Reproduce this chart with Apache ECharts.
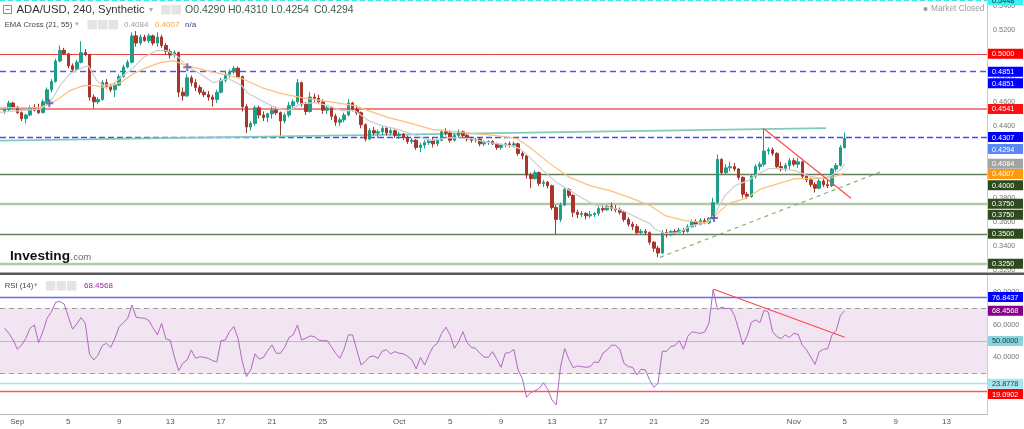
<!DOCTYPE html>
<html><head><meta charset="utf-8">
<script src="https://cdn.jsdelivr.net/npm/echarts@6.0.0/dist/echarts.min.js"></script>
<style>html,body{margin:0;padding:0;background:#fff;overflow:hidden}#c{width:1024px;height:429px}</style>
</head><body><div id="c"></div><script>
// ================= DATA =================
const startDay = -1;          // first candle: Aug 31 00:00 (days since Sep 1)
const candleStepDays = 1 / 3; // 8-hour candles
// [open, high, low, close]
const candles = [
[.4520,.4545,.4500,.4535],[.4535,.4610,.4525,.4590],[.4590,.4600,.4540,.4555],[.4555,.4565,.4500,.4510],[.4510,.4520,.4440,.4460],
[.4460,.4500,.4420,.4490],[.4490,.4570,.4480,.4545],[.4545,.4580,.4520,.4530],[.4530,.4585,.4500,.4510],[.4510,.4620,.4505,.4600],
[.4600,.4720,.4590,.4700],[.4700,.4790,.4680,.4770],[.4770,.4960,.4760,.4940],[.4940,.5070,.4930,.5030],[.5030,.5050,.4990,.5000],
[.5000,.5010,.4880,.4900],[.4900,.4920,.4850,.4870],[.4870,.4950,.4860,.4930],[.4930,.5105,.4920,.5010],[.5010,.5040,.4980,.4995],
[.4995,.5000,.4610,.4640],[.4640,.4660,.4545,.4600],[.4600,.4640,.4580,.4620],[.4620,.4780,.4610,.4760],[.4760,.4790,.4710,.4730],
[.4730,.4750,.4680,.4700],[.4700,.4760,.4640,.4740],[.4740,.4830,.4730,.4810],[.4810,.4910,.4800,.4890],[.4890,.4950,.4880,.4930],
[.4930,.5180,.4920,.5150],[.5150,.5190,.5060,.5090],[.5090,.5160,.5070,.5140],[.5140,.5160,.5100,.5110],[.5110,.5170,.5090,.5150],
[.5150,.5160,.5070,.5090],[.5090,.5180,.5060,.5140],[.5140,.5160,.5050,.5070],[.5070,.5090,.4990,.5020],[.5020,.5040,.4960,.4990],
[.4990,.5030,.4970,.5010],[.5010,.5020,.4640,.4680],[.4680,.4720,.4610,.4650],[.4650,.4830,.4640,.4800],[.4800,.4820,.4730,.4760],
[.4760,.4790,.4690,.4720],[.4720,.4740,.4660,.4680],[.4680,.4700,.4640,.4660],[.4660,.4690,.4610,.4640],[.4640,.4660,.4560,.4620],
[.4620,.4700,.4590,.4680],[.4680,.4800,.4670,.4780],[.4780,.4850,.4760,.4830],[.4830,.4870,.4800,.4850],[.4850,.4900,.4830,.4880],
[.4880,.4895,.4800,.4810],[.4810,.4820,.4520,.4560],[.4560,.4580,.4340,.4390],[.4390,.4440,.4360,.4420],[.4420,.4570,.4400,.4550],
[.4550,.4570,.4460,.4490],[.4490,.4520,.4440,.4470],[.4470,.4510,.4430,.4500],[.4500,.4560,.4460,.4530],[.4530,.4560,.4490,.4510],
[.4510,.4520,.4320,.4440],[.4440,.4510,.4420,.4490],[.4490,.4600,.4470,.4570],[.4570,.4620,.4540,.4600],[.4600,.4790,.4580,.4760],
[.4760,.4770,.4560,.4580],[.4580,.4600,.4490,.4520],[.4520,.4680,.4510,.4640],[.4640,.4670,.4600,.4630],[.4630,.4660,.4580,.4600],
[.4600,.4620,.4500,.4530],[.4530,.4570,.4500,.4550],[.4550,.4560,.4450,.4480],[.4480,.4500,.4400,.4430],[.4430,.4470,.4400,.4450],
[.4450,.4510,.4430,.4490],[.4490,.4625,.4480,.4590],[.4590,.4600,.4520,.4540],[.4540,.4570,.4490,.4510],[.4510,.4520,.4380,.4410],
[.4410,.4420,.4270,.4290],[.4290,.4380,.4280,.4360],[.4360,.4390,.4320,.4340],[.4340,.4370,.4300,.4350],[.4350,.4400,.4320,.4380],
[.4380,.4390,.4320,.4340],[.4340,.4380,.4320,.4360],[.4360,.4370,.4300,.4320],[.4320,.4350,.4290,.4330],[.4330,.4340,.4280,.4300],
[.4300,.4320,.4250,.4270],[.4270,.4300,.4250,.4280],[.4280,.4290,.4200,.4220],[.4220,.4260,.4180,.4240],[.4240,.4280,.4210,.4260],
[.4260,.4290,.4240,.4280],[.4280,.4300,.4220,.4250],[.4250,.4290,.4230,.4280],[.4280,.4370,.4270,.4350],[.4350,.4380,.4320,.4340],
[.4340,.4360,.4260,.4280],[.4280,.4340,.4270,.4320],[.4320,.4370,.4300,.4350],[.4350,.4360,.4300,.4320],[.4320,.4330,.4270,.4290],
[.4290,.4310,.4260,.4280],[.4280,.4300,.4260,.4290],[.4290,.4300,.4230,.4250],[.4250,.4280,.4230,.4260],[.4260,.4280,.4240,.4270],
[.4270,.4280,.4240,.4250],[.4250,.4260,.4200,.4220],[.4220,.4250,.4200,.4240],[.4240,.4260,.4220,.4250],[.4250,.4270,.4220,.4240],
[.4240,.4270,.4220,.4250],[.4250,.4260,.4150,.4170],[.4170,.4190,.4120,.4150],[.4150,.4160,.3960,.3990],[.3990,.4010,.3880,.3960],
[.3960,.4030,.3950,.4010],[.4010,.4020,.3900,.3920],[.3920,.3950,.3890,.3930],[.3930,.3940,.3880,.3900],[.3900,.3910,.3700,.3720],
[.3720,.3740,.3500,.3620],[.3620,.3760,.3600,.3740],[.3740,.3890,.3730,.3870],[.3870,.3880,.3800,.3820],[.3820,.3830,.3640,.3680],
[.3680,.3700,.3630,.3660],[.3660,.3690,.3640,.3670],[.3670,.3680,.3620,.3650],[.3650,.3690,.3630,.3660],[.3660,.3680,.3640,.3670],
[.3670,.3730,.3650,.3710],[.3710,.3740,.3680,.3700],[.3700,.3740,.3690,.3730],[.3730,.3760,.3690,.3710],[.3710,.3740,.3680,.3700],
[.3700,.3720,.3660,.3680],[.3680,.3690,.3600,.3620],[.3620,.3640,.3560,.3580],[.3580,.3600,.3530,.3560],[.3560,.3580,.3490,.3510],
[.3510,.3540,.3490,.3520],[.3520,.3540,.3490,.3510],[.3510,.3520,.3410,.3430],[.3430,.3440,.3350,.3380],[.3380,.3400,.3305,.3340],
[.3340,.3530,.3330,.3510],[.3510,.3540,.3470,.3490],[.3490,.3530,.3480,.3520],[.3520,.3540,.3490,.3510],[.3510,.3550,.3500,.3530],
[.3530,.3550,.3500,.3520],[.3520,.3580,.3510,.3560],[.3560,.3620,.3550,.3600],[.3600,.3620,.3560,.3580],[.3580,.3630,.3570,.3610],
[.3610,.3630,.3580,.3590],[.3590,.3640,.3580,.3630],[.3630,.3800,.3620,.3760],[.3760,.4160,.3750,.4120],[.4120,.4130,.3990,.4010],
[.4010,.4080,.3990,.4050],[.4050,.4100,.4020,.4060],[.4060,.4090,.4020,.4040],[.4040,.4050,.3950,.3970],[.3970,.3980,.3800,.3830],
[.3830,.3850,.3790,.3810],[.3810,.4000,.3800,.3980],[.3980,.4080,.3960,.4060],[.4060,.4100,.4030,.4080],[.4080,.4380,.4060,.4190],
[.4190,.4220,.4160,.4200],[.4200,.4220,.4150,.4170],[.4170,.4180,.4040,.4060],[.4060,.4100,.4020,.4040],[.4040,.4090,.4020,.4070],
[.4070,.4130,.4040,.4110],[.4110,.4130,.4060,.4080],[.4080,.4135,.4050,.4100],[.4100,.4110,.3960,.3980],[.3980,.4000,.3930,.3950],
[.3950,.3970,.3890,.3910],[.3910,.3930,.3845,.3880],[.3880,.3960,.3870,.3940],[.3940,.3960,.3890,.3910],[.3910,.3950,.3880,.3900],
[.3900,.4050,.3890,.4040],[.4040,.4090,.4020,.4070],[.4070,.4240,.4060,.4220],[.4220,.4344,.4210,.4294]
];
// RSI(14), one value per candle
const rsi = [
57.8,54.7,50.6,44.9,47.6,51.7,57.8,59.8,49.0,55.7,
63.9,67.8,73.7,74.1,72.7,64.9,57.2,60.4,64.3,60.8,
41.9,38.4,41.3,47.2,48.6,46.1,51.7,58.8,61.2,63.9,
72.0,64.5,64.1,63.9,62.5,57.8,53.7,60.8,51.2,50.6,
40.4,31.9,36.4,38.4,44.5,39.4,40.4,40.0,39.4,38.0,
37.2,50.2,50.6,55.7,58.8,51.7,37.4,28.2,32.3,42.1,
39.0,40.0,44.1,47.6,42.5,42.5,46.1,52.1,53.7,59.8,
50.6,51.7,53.1,52.7,50.6,50.2,50.2,46.6,42.5,39.4,
45.1,53.7,53.7,44.5,35.3,37.4,40.4,40.8,39.4,43.9,
44.5,42.1,43.5,42.5,42.1,40.6,38.4,32.9,40.0,35.3,
41.5,46.6,48.6,54.7,58.4,53.7,45.5,49.6,55.7,49.0,
46.1,45.5,42.5,40.2,40.0,43.5,38.8,33.9,42.5,42.9,
44.9,32.3,27.2,15.6,18.4,19.6,21.1,24.5,20.5,13.9,
10.9,33.9,45.3,38.8,33.7,34.7,34.3,33.9,34.3,37.2,
36.8,42.5,44.5,47.4,47.4,44.9,36.2,34.3,33.9,29.2,
32.7,32.3,26.2,21.7,24.1,43.7,43.7,46.6,47.2,50.2,
44.9,52.7,55.7,55.1,54.7,55.5,60.8,81.6,69.2,70.8,
69.8,70.0,65.7,57.2,47.8,53.1,61.4,62.9,61.2,68.8,
67.6,55.7,52.7,51.4,53.7,52.1,54.7,54.1,47.4,44.5,
40.2,35.7,43.5,44.9,45.3,53.7,56.5,65.7,68.4568
];
// EMA lines: [day, price]
const ema21 = [[-1.37,.4513],[0.20,.4527],[1.78,.4540],[2.56,.4595],[3.35,.4735],[4.13,.4835],[4.92,.4877],[5.57,.4902],[6.23,.4777],[6.75,.4735],[7.53,.4752],[8.32,.4819],[9.11,.4885],[9.89,.4969],[10.94,.5027],[11.73,.5027],[12.51,.4985],[13.30,.4902],[14.35,.4835],[15.39,.4760],[16.57,.4794],[17.62,.4735],[18.14,.4669],[19.19,.4610],[20.24,.4552],[21.28,.4527],[22.34,.4585],[23.38,.4594],[24.43,.4569],[25.48,.4527],[26.52,.4527],[27.57,.4444],[28.62,.4402],[29.67,.4377],[30.71,.4344],[31.76,.4302],[32.42,.4277],[33.99,.4302],[35.56,.4294],[37.13,.4260],[38.70,.4235],[39.49,.4210],[40.27,.4135],[41.32,.4027],[42.37,.3927],[43.42,.3860],[44.46,.3793],[45.51,.3735],[46.56,.3718],[47.60,.3693],[48.66,.3635],[49.70,.3585],[50.09,.3540],[50.88,.3502],[51.92,.3510],[52.98,.3568],[54.28,.3595],[54.81,.3668],[55.59,.3818],[56.38,.3902],[57.42,.3943],[58.21,.4002],[58.99,.4043],[60.04,.4043],[61.09,.4027],[62.13,.3985],[63.18,.3960],[63.97,.3985],[64.76,.4043],[65.0,.4084]];
const ema55 = [[-1.37,.4552],[0.20,.4552],[1.78,.4552],[2.56,.4585],[3.35,.4635],[4.13,.4694],[5.18,.4735],[5.96,.4735],[7.01,.4719],[8.06,.4760],[9.11,.4835],[10.16,.4885],[11.20,.4927],[12.25,.4944],[13.30,.4902],[14.87,.4860],[15.92,.4835],[17.62,.4794],[19.19,.4719],[20.76,.4669],[22.34,.4635],[23.91,.4610],[25.48,.4585],[26.52,.4569],[27.57,.4527],[29.14,.4469],[30.71,.4427],[32.60,.4370],[35.03,.4344],[37.65,.4319],[39.23,.4294],[40.27,.4219],[41.84,.4085],[43.42,.3968],[44.99,.3902],[46.56,.3860],[48.13,.3802],[49.70,.3735],[50.88,.3652],[52.45,.3610],[54.02,.3593],[54.81,.3652],[55.85,.3752],[57.16,.3793],[58.48,.3877],[59.78,.3918],[61.09,.3960],[62.40,.3960],[63.97,.3968],[65.0,.4007]];
const emaCrosses = [[2.51,.4588],[13.35,.4888],[54.73,.3632]];
// drawn trend lines: [day, value]
const trendTeal = [[-1.37,.4277],[63.53,.4381]];
const trendRed = [[58.68,.4374],[65.49,.3796]];
const trendGreen = [[50.49,.3304],[68.08,.4027]];
const rsiTrend = [[54.71,81.6],[65.0,52.3]];
// horizontal levels
const priceLevels = [0.5448, 0.5000, 0.4851, 0.4541, 0.4307, 0.4000, 0.3750, 0.3500, 0.3250];
const rsiLevels = [76.8437, 70, 50, 30, 23.8778, 19.0902];
// header values
const symbolName = 'ADA/USD, 240, Synthetic';
const lastOHLC = [0.4290, 0.4310, 0.4254, 0.4294];
const emaLast = [0.4084, 0.4007];
const rsiLast = 68.4568;
// axis ticks
const priceTicks = [0.32,0.34,0.36,0.38,0.40,0.42,0.44,0.46,0.48,0.50,0.52,0.54];
const rsiTicks = [40, 60, 80];
const dateTicks = [0,4,8,12,16,20,24,30,34,38,42,46,50,54,61,65,69,73];
const dateTickLabels = ['Sep','5','9','13','17','21','25','Oct','5','9','13','17','21','25','Nov','5','9','13'];

// ================= VIEW =================
const X_MIN = -1.367, X_MAX = 76.18;
const P_MIN = 0.3190, P_MAX = 0.5449;
const R_MIN = 5.35, R_MAX = 90.35;
const SANS = '"Liberation Sans", Arial, sans-serif';

const levelStyles = [
  {color:'#3fe6e6', type:[5,3], width:1.3},
  {color:'#e94040', type:'solid', width:1},
  {color:'#5555f5', type:[6,4], width:1.4},
  {color:'#f38585', type:'solid', width:2},
  {color:'#4a4af2', type:[6,3], width:1.4},
  {color:'#667f5a', type:'solid', width:1.4},
  {color:'#b2c6a8', type:'solid', width:2.4},
  {color:'#667f5a', type:'solid', width:1.4},
  {color:'#b2c6a8', type:'solid', width:2.4}
];
const rsiLevelStyles = [
  {color:'#6a6af5', type:'solid', width:1.4},
  {color:'#a49ca4', type:[5,4], width:1},
  {color:'#a3c4c8', type:'solid', width:1.2},
  {color:'#a49ca4', type:[5,4], width:1},
  {color:'#a6e6ee', type:'solid', width:1.4},
  {color:'#ff5555', type:'solid', width:1.4}
];

const candleData = candles.map((c, i) => [startDay + i * candleStepDays, c[0], c[3], c[2], c[1]]);
const rsiData = rsi.map((v, i) => [startDay + i * candleStepDays, v]);

const chart = echarts.init(document.getElementById('c'), null, {renderer: 'canvas'});

const option = {
  animation: false,
  backgroundColor: '#ffffff',
  grid: [
    {left: 0, right: 37, top: 0, height: 271},
    {left: 0, right: 37, top: 275, height: 139}
  ],
  xAxis: [
    {type:'value', gridIndex:0, min:X_MIN, max:X_MAX, show:false},
    {type:'value', gridIndex:1, min:X_MIN, max:X_MAX,
     axisLine:{show:true, onZero:false, lineStyle:{color:'#bbbbbb'}}, axisTick:{show:false}, splitLine:{show:false},
     axisLabel:{customValues: dateTicks, margin: 4, color:'#555', fontSize: 8, fontFamily: SANS,
       formatter: v => { const k = dateTicks.indexOf(Math.round(v)); return k >= 0 ? dateTickLabels[k] : ''; }}}
  ],
  yAxis: [
    {type:'value', gridIndex:0, position:'right', min:P_MIN, max:P_MAX,
     axisLine:{show:true, onZero:false, lineStyle:{color:'#cccccc'}}, axisTick:{show:false}, splitLine:{show:false},
     axisLabel:{customValues: priceTicks, margin: 6, color:'#777', fontSize: 7.3, fontFamily: SANS,
       formatter: v => v.toFixed(4)}},
    {type:'value', gridIndex:1, position:'right', min:R_MIN, max:R_MAX,
     axisLine:{show:true, onZero:false, lineStyle:{color:'#cccccc'}}, axisTick:{show:false}, splitLine:{show:false},
     axisLabel:{customValues: rsiTicks, margin: 6, color:'#777', fontSize: 7.3, fontFamily: SANS,
       formatter: v => v.toFixed(4)}}
  ],
  series: [
    {type:'candlestick', name:'ADA', xAxisIndex:0, yAxisIndex:0, z:3, barWidth: 3,
     encode:{x:0, y:[1,2,3,4]},
     data: candleData,
     itemStyle:{color:'#1e9e88', color0:'#a8342b', borderColor:'#1e9e88', borderColor0:'#a8342b', borderWidth:1},
     markLine:{silent:true, symbol:'none', z:1, precision:6, label:{show:false},
       data: priceLevels.map((v, i) => ({yAxis: v, lineStyle: levelStyles[i]}))}
    },
    {type:'line', name:'EMA21', xAxisIndex:0, yAxisIndex:0, z:4, data: ema21, showSymbol:false, symbol:'none',
     lineStyle:{color:'#cfcfcf', width:1.2}},
    {type:'line', name:'EMA55', xAxisIndex:0, yAxisIndex:0, z:4, data: ema55, showSymbol:false, symbol:'none',
     lineStyle:{color:'#fbc07a', width:1.2}},
    {type:'line', name:'teal', xAxisIndex:0, yAxisIndex:0, z:2, data: trendTeal, symbol:'none',
     lineStyle:{color:'#80cbb7', width:1.6}},
    {type:'line', name:'redTrend', xAxisIndex:0, yAxisIndex:0, z:5, data: trendRed, symbol:'none',
     lineStyle:{color:'#ff4a4a', width:1.2}},
    {type:'line', name:'greenTrend', xAxisIndex:0, yAxisIndex:0, z:5, data: trendGreen, symbol:'none',
     lineStyle:{color:'#86b36e', width:1.2, type:[4,4]}},
    {type:'scatter', name:'cross', xAxisIndex:0, yAxisIndex:0, z:6, data: emaCrosses,
     symbol:'path://M3,0H5V3H8V5H5V8H3V5H0V3H3Z', symbolSize: 8, itemStyle:{color:'#5353a6'}},
    {type:'line', name:'RSI', xAxisIndex:1, yAxisIndex:1, z:3, data: rsiData, symbol:'none',
     lineStyle:{color:'#b266c2', width:1},
     markArea:{silent:true, z:0, itemStyle:{color:'#f2e5f2'}, data:[[{yAxis:30},{yAxis:70}]]},
     markLine:{silent:true, symbol:'none', z:1, precision:6, label:{show:false},
       data: rsiLevels.map((v, i) => ({yAxis: v, lineStyle: rsiLevelStyles[i]}))}
    },
    {type:'line', name:'rsiTrend', xAxisIndex:1, yAxisIndex:1, z:5, data: rsiTrend, symbol:'none',
     lineStyle:{color:'#ff4a4a', width:1.2}}
  ]
};
chart.setOption(option);

// ---------- overlay text & price tags ----------
const G = [];
function txt(x, y, s, fill, size, extra) {
  G.push({type:'text', z:100, silent:true,
    style:{x, y, text:s, fill, font: (extra && extra.weight ? extra.weight + ' ' : '') + size + 'px ' + SANS, verticalAlign:'middle', align: (extra && extra.align) || 'left'}});
}
function box(x, y, w, h, fill) {
  G.push({type:'rect', z:99, silent:true, shape:{x, y, width:w, height:h}, style:{fill}});
}
// header line 1
G.push({type:'rect', z:100, silent:true, shape:{x:3.5, y:5.5, width:8, height:8}, style:{fill:'none', stroke:'#8a8a8a', lineWidth:1}});
G.push({type:'line', z:100, silent:true, shape:{x1:5.5, y1:9.5, x2:9.5, y2:9.5}, style:{stroke:'#8a8a8a', lineWidth:1}});
txt(16.5, 10, symbolName, '#333333', 11.3);
txt(149, 10, '▾', '#aaaaaa', 8);
box(161, 5, 9.5, 9.5, '#e4e4e4'); box(171.5, 5, 9.5, 9.5, '#e4e4e4');
const ohlcNames = ['O','H','L','C'];
const ohlcX = [185, 228, 271, 314];
lastOHLC.forEach((v, i) => txt(ohlcX[i], 10, ohlcNames[i] + v.toFixed(4), '#3d5e47', 10.5));
// header line 2
txt(4.7, 24.5, 'EMA Cross (21, 55)', '#444444', 7.7);
txt(75, 24.5, '▾', '#aaaaaa', 7);
box(87.5, 20, 9.5, 9.5, '#e4e4e4'); box(98, 20, 9.5, 9.5, '#e4e4e4'); box(108.5, 20, 9.5, 9.5, '#e4e4e4');
txt(124, 24.5, emaLast[0].toFixed(4), '#a0a0a0', 8);
txt(155, 24.5, emaLast[1].toFixed(4), '#f5a33a', 8);
txt(185, 24.5, 'n/a', '#3a3a9a', 8);
// market closed
G.push({type:'circle', z:100, silent:true, shape:{cx:925.5, cy:9, r:2}, style:{fill:'#999999'}});
txt(931, 9, 'Market Closed', '#9a9a9a', 8.3);
// logo
txt(10, 256, 'Investing', '#111111', 13.7, {weight:'bold'});
txt(70.5, 257.5, '.com', '#666666', 9.5);
// separator
box(0, 272.5, 1024, 2.5, '#575757');
// RSI header
txt(4.7, 285.5, 'RSI (14)', '#444444', 7.7);
txt(34, 285.5, '▾', '#aaaaaa', 7);
box(46, 281, 9.5, 9.5, '#e4e4e4'); box(56.5, 281, 9.5, 9.5, '#e4e4e4'); box(67, 281, 9.5, 9.5, '#e4e4e4');
txt(84, 285.5, rsiLast.toFixed(4), '#9b1f9b', 8);

// right-side value tags (positions come from the axes)
const priceTags = [
  {v:0.5448, bg:'#36f2f0', fg:'#1c2a3a', dy:0},
  {v:0.5000, bg:'#ff0000', fg:'#ffffff', dy:0},
  {v:0.4851, bg:'#0000ff', fg:'#ffffff', dy:0},
  {v:0.4851, bg:'#0000ff', fg:'#ffffff', dy:11.5},
  {v:0.4541, bg:'#ff1010', fg:'#ffffff', dy:0},
  {v:0.4307, bg:'#0000f0', fg:'#ffffff', dy:0},
  {v:lastOHLC[3], bg:'#5b86f6', fg:'#ffffff', dy:10.5},
  {v:emaLast[0], bg:'#a3a3a3', fg:'#ffffff', dy:0},
  {v:emaLast[1], bg:'#ff9a10', fg:'#ffffff', dy:1},
  {v:0.4000, bg:'#2f4a1f', fg:'#ffffff', dy:11.5},
  {v:0.3750, bg:'#2f4a1f', fg:'#ffffff', dy:0},
  {v:0.3750, bg:'#2f4a1f', fg:'#ffffff', dy:11},
  {v:0.3500, bg:'#2f4a1f', fg:'#ffffff', dy:0},
  {v:0.3250, bg:'#2f4a1f', fg:'#ffffff', dy:0}
];
const rsiTags = [
  {v:76.8437, bg:'#0000ff', fg:'#ffffff', dy:0},
  {v:rsiLast, bg:'#850085', fg:'#ffffff', dy:0},
  {v:50, bg:'#8ad4e0', fg:'#18333a', dy:0},
  {v:23.8778, bg:'#a8e6ef', fg:'#18333a', dy:0},
  {v:19.0902, bg:'#ff0000', fg:'#ffffff', dy:2.5}
];
function tag(t, axisIdx) {
  const y = chart.convertToPixel({yAxisIndex: axisIdx}, t.v) + t.dy;
  box(988, y - 5, 35, 10, t.bg);
  G.push({type:'text', z:101, silent:true, style:{x:992, y:y + 0.5, text:t.v.toFixed(4), fill:t.fg,
    font:'7.3px ' + SANS, verticalAlign:'middle', align:'left'}});
}
priceTags.forEach(t => tag(t, 0));
rsiTags.forEach(t => tag(t, 1));

chart.setOption({graphic: G});
</script></body></html>
